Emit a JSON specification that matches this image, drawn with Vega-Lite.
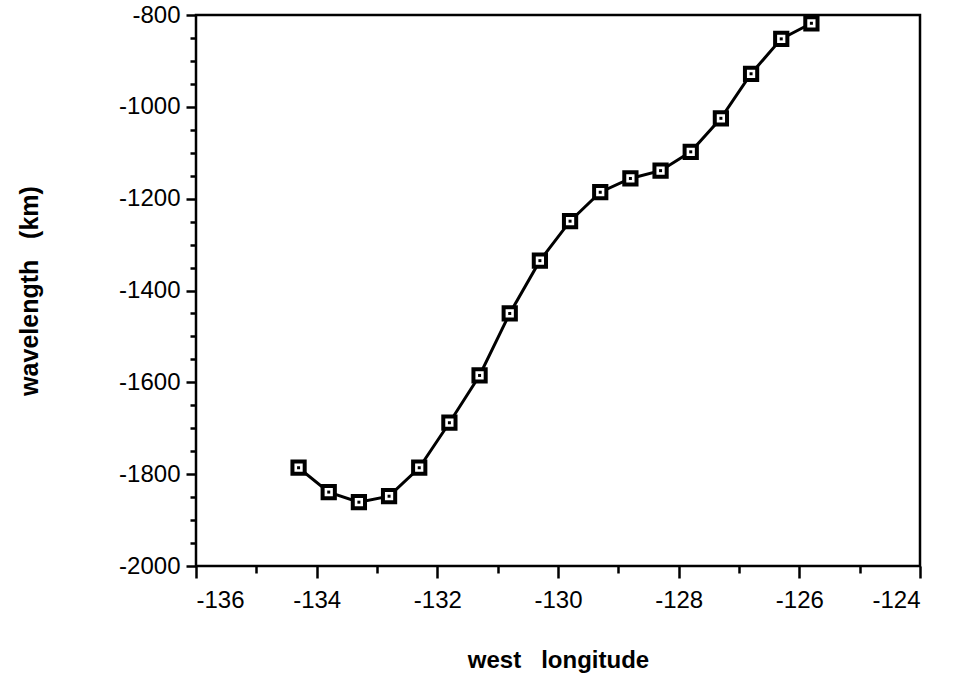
{
  "$schema": "https://vega.github.io/schema/vega-lite/v6.json",
  "autosize": {"type": "none"},
  "width": 724,
  "height": 551,
  "padding": {"left": 196, "top": 15, "right": 39, "bottom": 111},
  "background": "white",
  "config": {
    "view": {"stroke": "black", "strokeWidth": 2.5},
    "axis": {"grid": false, "domain": false, "tickColor": "black", "labelColor": "black", "titleColor": "black", "labelFont": "Liberation Sans", "titleFont": "Liberation Sans"}
  },
  "data": {"values": [
    {"lon": -134.3, "wl": -1786},
    {"lon": -133.8, "wl": -1839},
    {"lon": -133.3, "wl": -1861},
    {"lon": -132.8, "wl": -1848},
    {"lon": -132.3, "wl": -1786},
    {"lon": -131.8, "wl": -1688},
    {"lon": -131.3, "wl": -1585},
    {"lon": -130.8, "wl": -1450},
    {"lon": -130.3, "wl": -1335},
    {"lon": -129.8, "wl": -1249},
    {"lon": -129.3, "wl": -1186},
    {"lon": -128.8, "wl": -1156},
    {"lon": -128.3, "wl": -1139},
    {"lon": -127.8, "wl": -1098},
    {"lon": -127.3, "wl": -1025},
    {"lon": -126.8, "wl": -928},
    {"lon": -126.3, "wl": -852},
    {"lon": -125.8, "wl": -818}
  ]},
  "layer": [
    {
      "mark": {"type": "line", "color": "black", "strokeWidth": 3},
      "encoding": {
        "x": {"field": "lon", "type": "quantitative", "scale": {"domain": [-136, -124], "nice": false, "zero": false},
          "axis": {"orient": "bottom", "values": [-135, -133, -131, -129, -127, -125], "labels": false, "title": null, "tickSize": 7, "tickWidth": 2.5}},
        "y": {"field": "wl", "type": "quantitative", "scale": {"domain": [-2000, -800], "nice": false, "zero": false},
          "axis": {"orient": "left", "values": [-1950, -1900, -1850, -1750, -1700, -1650, -1550, -1500, -1450, -1350, -1300, -1250, -1150, -1100, -1050, -950, -900, -850], "labels": false, "title": null, "tickSize": 6, "tickWidth": 2.5}}
      }
    },
    {
      "mark": {"type": "point", "shape": "square", "size": 150, "filled": true, "fill": "white", "stroke": "black", "strokeWidth": 4, "opacity": 1},
      "encoding": {
        "x": {"field": "lon", "type": "quantitative",
          "axis": {"orient": "bottom", "values": [-136, -134, -132, -130, -128, -126, -124], "labelExpr": "'' + datum.value", "tickSize": 12, "tickWidth": 2.5, "labelFontSize": 24, "labelPadding": 10, "title": "west\u00a0\u00a0\u00a0longitude", "titleFontSize": 24, "titleFontWeight": "bold", "titlePadding": 36}},
        "y": {"field": "wl", "type": "quantitative",
          "axis": {"orient": "left", "values": [-2000, -1800, -1600, -1400, -1200, -1000, -800], "labelExpr": "'' + datum.value", "tickSize": 10, "tickWidth": 2.5, "labelFontSize": 24, "labelPadding": 6, "title": "wavelength\u00a0\u00a0\u00a0(km)", "titleFontSize": 25, "titleFontWeight": "bold", "titlePadding": 76}}
      }
    },
    {
      "mark": {"type": "point", "shape": "square", "size": 9, "filled": true, "color": "black", "opacity": 1},
      "encoding": {
        "x": {"field": "lon", "type": "quantitative", "axis": null},
        "y": {"field": "wl", "type": "quantitative", "axis": null}
      }
    }
  ],
  "resolve": {"axis": {"x": "independent", "y": "independent"}}
}
